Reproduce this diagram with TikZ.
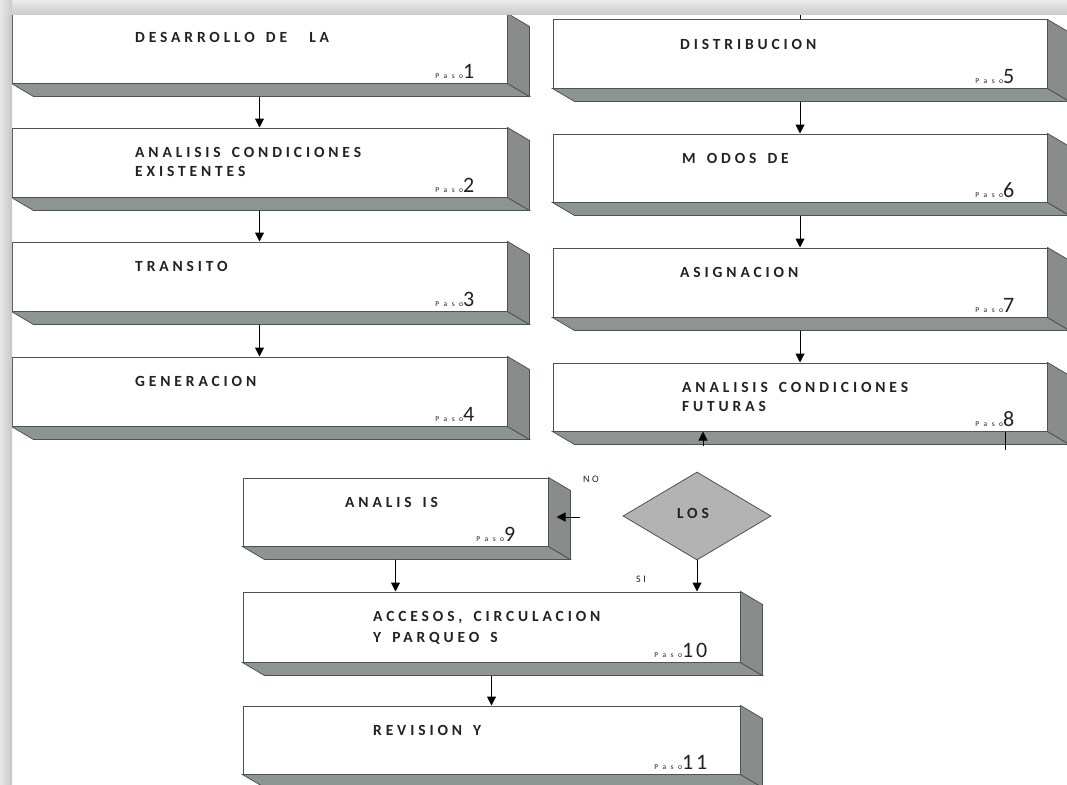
\documentclass[tikz,border=0pt]{standalone}
\usepackage{fontspec}
\setmainfont{Carlito}
\newfontfamily\lblfont[LetterSpace=25,WordSpace=1.5,BoldFont={Carlito Bold}]{Carlito}
\newfontfamily\pasofont[LetterSpace=60]{Carlito}
\usetikzlibrary{arrows.meta,shapes.geometric}
\definecolor{edgec}{HTML}{4A5553}
\definecolor{depthc}{HTML}{8E9491}
\definecolor{sidec}{HTML}{8A8C8B}
\definecolor{txtc}{HTML}{222222}
\definecolor{diac}{HTML}{B3B3B3}
\tikzset{
  frontbox/.style={draw=edgec, line width=1pt, fill=white, inner sep=0pt, rectangle},
  depthface/.style={draw=edgec, line width=0.8pt, fill=depthc},
  sideface/.style={draw=edgec, line width=0.8pt, fill=sidec},
  lbl/.style={font=\lblfont\bfseries\fontsize{15.5}{17}\selectfont, text=txtc, inner sep=0pt, align=left},
  paso/.style={inner sep=0pt, text=txtc},
  arr/.style={line width=1pt, -{Triangle[width=9pt,length=9pt]}},
  small/.style={font=\lblfont\fontsize{10}{11}\selectfont, text=txtc, inner sep=0pt},
  dia/.style={diamond, draw=edgec, line width=0.8pt, fill=diac, minimum width=148pt, minimum height=88pt, inner sep=0pt}
}
\newcommand\stepbox[6]{%
  \node[frontbox, minimum width={#4pt-#2pt}, minimum height={#5pt-#3pt}] (#1) at ({(#2+#4)/2},{(#3+#5)/2}) {};
  \filldraw[depthface] (#1.south west) -- ++(22,13) -- ([shift={(22,13)}]#1.south east) -- (#1.south east) -- cycle;
  \filldraw[sideface] (#1.north east) -- ++(22,13) -- ([shift={(22,13)}]#1.south east) -- (#1.south east) -- cycle;
  \node[paso, anchor=base east] (#1p) at ([shift={(-33,-5)}]#1.south east) {{\pasofont\fontsize{7.5}{8}\selectfont Paso}{\fontsize{22}{22}\selectfont #6}};
}
\begin{document}
\begin{tikzpicture}[x=1pt,y=-1pt]
\useasboundingbox (0,0) rectangle (1067,784);
\clip (0,0) rectangle (1067,784);
\fill[white] (0,0) rectangle (1067,784);
% left column
\stepbox{b1}{12}{14}{507}{83}{1}
\stepbox{b2}{12}{128}{507}{197}{2}
\stepbox{b3}{12}{242}{507}{311}{3}
\stepbox{b4}{12}{357}{507}{426}{4}
% right column
\stepbox{b5}{553}{20}{1047}{88}{5}
\stepbox{b6}{553}{134}{1047}{202}{6}
\stepbox{b7}{553}{248}{1047}{317}{7}
\stepbox{b8}{553}{363}{1047}{431}{8}
% bottom
\stepbox{b9}{243}{478}{548}{546}{9}
\stepbox{b10}{243}{592}{740}{662}{1\kern3pt0}
\stepbox{b11}{243}{706}{740}{774}{1\kern3pt1}
% labels
\node[lbl, anchor=base west] (t1) at (135,43) {DESARROLLO DE\ \ LA};
\node[lbl, anchor=base west] (t2a) at (135,157) {ANALISIS CONDICIONES};
\node[lbl, anchor=base west] (t2b) at (135,176) {EXISTENTES};
\node[lbl, anchor=base west] (t3) at (135,271) {TRANSITO};
\node[lbl, anchor=base west] (t4) at (135,386) {GENERACION};
\node[lbl, anchor=base west] (t5) at (680,49) {DISTRIBUCION};
\node[lbl, anchor=base west] (t6) at (682,163) {M ODOS DE};
\node[lbl, anchor=base west] (t7) at (680,277) {ASIGNACION};
\node[lbl, anchor=base west] (t8a) at (682,392) {ANALISIS CONDICIONES};
\node[lbl, anchor=base west] (t8b) at (682,411) {FUTURAS};
\node[lbl, anchor=base west] (t9) at (345,507) {ANALIS IS};
\node[lbl, anchor=base west] (t10a) at (373,621) {ACCESOS, CIRCULACION};
\node[lbl, anchor=base west] (t10b) at (373,642) {Y PARQUEO\ S};
\node[lbl, anchor=base west] (t11) at (373,735) {REVISION Y};
% diamond
\node[dia] (d) at (697,516) {};
\node[lbl, anchor=base] (dl) at (693,518) {LOS};
% arrows
\draw[arr] ([shift={(0,13)}]b1.south) -- (b2.north);
\draw[arr] ([shift={(0,13)}]b2.south) -- (b3.north);
\draw[arr] ([shift={(0,13)}]b3.south) -- (b4.north);
\draw[arr] ([shift={(0,13)}]b5.south) -- (b6.north);
\draw[arr] ([shift={(0,13)}]b6.south) -- (b7.north);
\draw[arr] ([shift={(0,13)}]b7.south) -- (b8.north);
\draw[arr] ([shift={(0,13)}]b9.south) -- (b9.south |- b10.north);
\draw[arr] (d.south) -- (d.south |- b10.north);
\draw[arr] ([shift={(0,13)}]b10.south) -- (b11.north);
\coordinate (top5) at (800,0);
\draw[line width=1pt] (top5) -- (b5.north);
\coordinate (up8) at (703,446);
\draw[arr] (up8) -- (up8 |- b8.south);
\coordinate (dn8) at (1005,450);
\draw[line width=1pt] (dn8 |- b8.south) -- (dn8);
\coordinate (nos) at (580,517);
\draw[arr] (nos) -- ([shift={(8,5)}]b9.east);
\node[small, anchor=base west] (no) at (583,482) {NO};
\node[small, anchor=base west] (si) at (636,582) {SI};
% frame
\fill[top color=gray!15, bottom color=gray!42] (0,0) rectangle (1067,15);
\fill[left color=gray!18, right color=gray!45] (0,15) rectangle (12,784);
\fill[left color=gray!18, right color=gray!40] (0,0) rectangle (12,15);
\end{tikzpicture}
\end{document}
